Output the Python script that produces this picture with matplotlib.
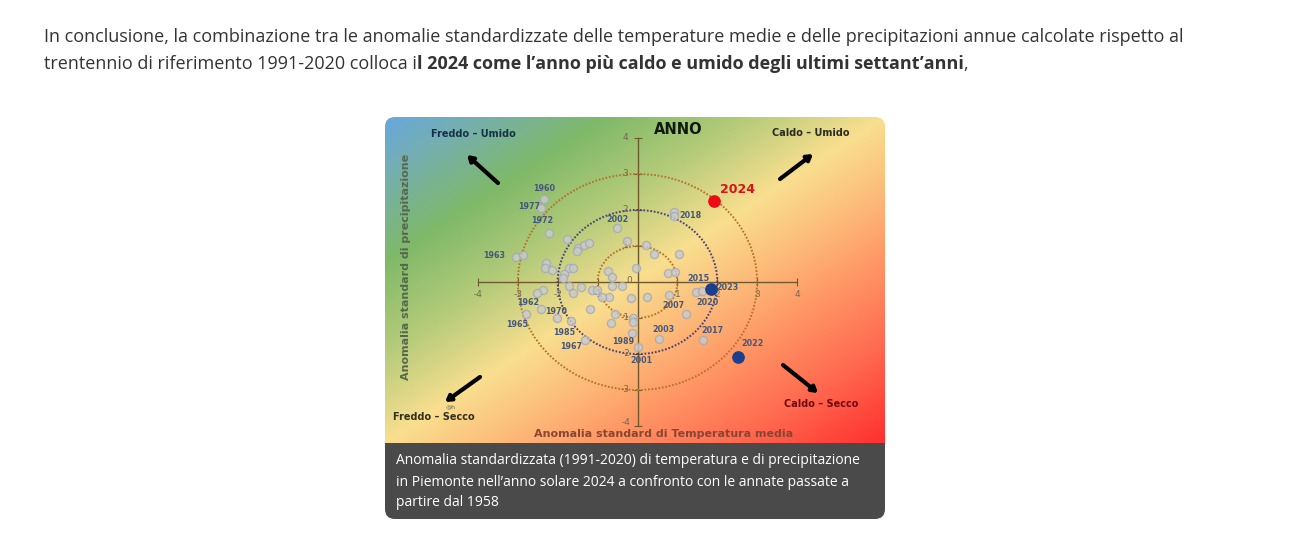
import numpy as np
import matplotlib
matplotlib.use('Agg')
import matplotlib.pyplot as plt
from matplotlib.colors import LinearSegmentedColormap
from matplotlib.patches import FancyBboxPatch, Circle, Rectangle

W, H = 1314, 557

# grey points
temp = [-2.34, -2.42, -2.22, -3.05, -2.87, -1.77, -1.49, -1.52, -1.34, -1.22, -0.51, -0.26,
        -2.29, -2.32, -2.14, -1.72, -1.62, -1.84, -1.87, -0.74, -0.64, -0.64, -0.39, -0.04,
        -0.16, -0.71, -1.19, -0.56, -0.66, -1.42, -1.72, -1.62, -1.14, -1.02, -0.89, -2.37,
        -2.52, -2.42, -2.79, -2.02, -1.67, -1.32, -0.11, -0.11, -0.14, 0.24, 0.79, 1.47,
        1.62, 1.22, 0.54, 1.64, 0.01, 0.91, 0.91, 0.21, 0.41, 1.04, 0.76, 0.94]
prec = [2.31, 2.06, 1.36, 0.69, 0.75, 1.19, 0.94, 0.86, 1.03, 1.08, 1.50, 1.14,
        0.53, 0.39, 0.33, 0.39, 0.39, 0.22, 0.11, 0.31, 0.14, -0.11, -0.11, 0.39,
        -0.44, -0.42, -0.75, -0.89, -1.14, -0.14, -0.11, -0.31, -0.22, -0.22, -0.42, -0.22,
        -0.31, -0.75, -0.89, -1.00, -1.08, -1.61, -1.00, -1.11, -1.42, -0.42, -0.36, -0.28,
        -0.25, -0.89, -1.58, -1.61, -1.81, 1.94, 1.83, 1.03, 0.78, 0.78, 0.25, 0.28]

blue_temp = [1.84, 2.52]
blue_prec = [-0.19, -2.08]
red_temp = [1.92]
red_prec = [2.25]

years = ['1960', '1977', '1972', '2002', '2018', '1963', '2015', '2023', '1962', '1970', '1965',
         '1985', '1967', '1989', '2001', '2007', '2020', '2003', '2017', '2022']
year_x = [-2.34, -2.72, -2.38, -0.49, 1.34, -3.60, 1.52, 2.26, -2.73, -2.04, -3.01,
          -1.84, -1.67, -0.36, 0.11, 0.89, 1.75, 0.64, 1.89, 2.88]
year_y = [2.61, 2.11, 1.72, 1.75, 1.86, 0.75, 0.11, -0.14, -0.58, -0.81, -1.19,
          -1.39, -1.78, -1.64, -2.19, -0.64, -0.58, -1.33, -1.36, -1.72]

ticks = [-4, -3, -2, -1, 1, 2, 3, 4]
rings = [1, 2, 3]
ring_colors = ['#b5742a', '#4b3f78', '#b5742a']

caption = ['Anomalia standardizzata (1991-2020) di temperatura e di precipitazione',
           'in Piemonte nell’anno solare 2024 a confronto con le annate passate a',
           'partire dal 1958']

fig = plt.figure(figsize=(W / 100, H / 100), dpi=100, facecolor='white')

# page layer in pixels
page = fig.add_axes([0, 0, 1, 1])
page.set_xlim(0, W)
page.set_ylim(H, 0)
page.axis('off')

card = FancyBboxPatch((385, 117), 500, 402, boxstyle='round,pad=0,rounding_size=10',
                      fc='none', ec='none', transform=page.transData)
page.add_patch(card)
cap_rect = Rectangle((385, 443), 500, 76, fc='#4a4a4a', ec='none', zorder=1)
page.add_patch(cap_rect)
cap_rect.set_clip_path(card)

# chart
x0, x1, y0, y1 = 385, 885, 117, 443
ax = fig.add_axes([x0 / W, 1 - y1 / H, (x1 - x0) / W, (y1 - y0) / H])
ax.set_xlim((x0 - 637.5) / 39.9, (x1 - 637.5) / 39.9)
ax.set_ylim((282 - y1) / 36, (282 - y0) / 36)
ax.axis('off')

cmap = LinearSegmentedColormap.from_list('anom', [
    (0.0, '#68a8dc'), (0.08, '#74aeb4'), (0.22, '#7fb968'), (0.36, '#b4cb7a'),
    (0.50, '#f9df8f'), (0.62, '#fdb878'), (0.70, '#ff9c68'), (0.85, '#ff6a50'), (1.0, '#ff3030')])
u, v = np.meshgrid(np.linspace(0, 1, 300), np.linspace(0, 1, 200))
img = ax.imshow((u + v) / 2, cmap=cmap, vmin=0, vmax=1, aspect='auto', zorder=0,
                extent=[ax.get_xlim()[0], ax.get_xlim()[1], ax.get_ylim()[0], ax.get_ylim()[1]],
                origin='upper')
img.set_clip_path(FancyBboxPatch((385, 117), 500, 402, boxstyle='round,pad=0,rounding_size=10',
                                 transform=page.transData))

axis_col = '#6e5a2c'
ax.plot([-4, 4], [0, 0], color=axis_col, lw=1.0, zorder=2)
ax.plot([0, 0], [-4, 4], color=axis_col, lw=1.0, zorder=2)
ax.plot(ticks, [0] * len(ticks), ls='none', marker='|', ms=6, mew=0.8, color=axis_col, zorder=2)
ax.plot([0] * len(ticks), ticks, ls='none', marker='_', ms=6, mew=0.8, color=axis_col, zorder=2)
for t in ticks:
    ax.text(t, -0.36, str(t), ha='center', va='center', fontsize=6.5, color='#6f6a50', zorder=3)
    ty = -3.9 if t == -4 else t
    ax.text(-0.3, ty, str(t), ha='center', va='center', fontsize=6.5, color='#6f6a50', zorder=3)
ax.text(-0.2, 0.05, '0', ha='center', va='center', fontsize=6.5, color='#6f6a50', zorder=3)

for r, c in zip(rings, ring_colors):
    ax.add_patch(Circle((0, 0), r, fill=False, ec=c, lw=1.4, ls=(0, (0.9, 0.9)), zorder=2))

ax.scatter(temp, prec, s=34, fc='#c9cbca', ec='#a4a8bc', lw=1.0, alpha=0.8, zorder=4)
ax.scatter(blue_temp, blue_prec, s=66, c='#1b3f8f', zorder=5)
ax.scatter(red_temp, red_prec, s=66, c='#ee0c14', zorder=5)

for y, a, b in zip(years, year_x, year_y):
    ax.text(a, b, y, ha='center', va='center', fontsize=5.8, fontweight='bold',
            color='#45587c', zorder=6)
ax.text(2.50, 2.56, '2024', ha='center', va='center', fontsize=9, fontweight='bold',
        color='#d8141a', zorder=6)

# arrows and labels of the corners, placed in pixels
page.set_zorder(3)
page.patch.set_visible(False)
for start, end in [((498, 183), (467, 155)), ((780, 179), (813, 154)),
                   ((480, 377), (445, 402)), ((783, 365), (818, 393))]:
    page.annotate('', xy=end, xytext=start, zorder=7,
                  arrowprops=dict(arrowstyle='-|>,head_width=0.2,head_length=0.32',
                                  color='black', lw=3, shrinkA=0, shrinkB=0))

for x, y, s, c in [(473, 134, 'Freddo – Umido', '#17304a'), (811, 133, 'Caldo – Umido', '#2a2a20'),
                   (434, 417, 'Freddo – Secco', '#33301a'), (821, 404, 'Caldo – Secco', '#6e0a10')]:
    page.text(x, y, s, ha='center', va='center', fontsize=7.0, fontweight='bold', color=c)
page.text(451, 407, '@h', ha='center', va='center', fontsize=4.5, color='#6a6a50')
page.text(678, 129, 'ANNO', ha='center', va='center', fontsize=10.5, fontweight='bold', color='#101810')
page.text(406, 267, 'Anomalia standard di precipitazione', rotation=90, ha='center', va='center',
          fontsize=8.0, fontweight='bold', color='#56684c')
page.text(664, 434, 'Anomalia standard di Temperatura media', ha='center', va='center',
          fontsize=8.0, fontweight='bold', color='#8a4630')

# caption
for s, y in zip(caption, [461, 482, 503]):
    page.text(396, y, s, ha='left', va='center', fontsize=10.02, color='white', family='Open Sans')

# paragraph above the picture
page.text(44, 37, 'In conclusione, la combinazione tra le anomalie standardizzate delle temperature medie '
          'e delle precipitazioni annue calcolate rispetto al', ha='left', va='center',
          fontsize=13.01, color='#333333', family='Open Sans')
renderer = fig.canvas.get_renderer()
xpos = 44
for s, w in [('trentennio di riferimento 1991-2020 colloca i', 'normal'),
             ('l 2024 come l’anno più caldo e umido degli ultimi settant’anni', 'bold'),
             (',', 'normal')]:
    t = page.text(xpos, 64, s, ha='left', va='center', fontsize=13.01, color='#333333',
                  family='Open Sans', fontweight=w)
    xpos += t.get_window_extent(renderer).width

fig.savefig('out.png', dpi=100)
